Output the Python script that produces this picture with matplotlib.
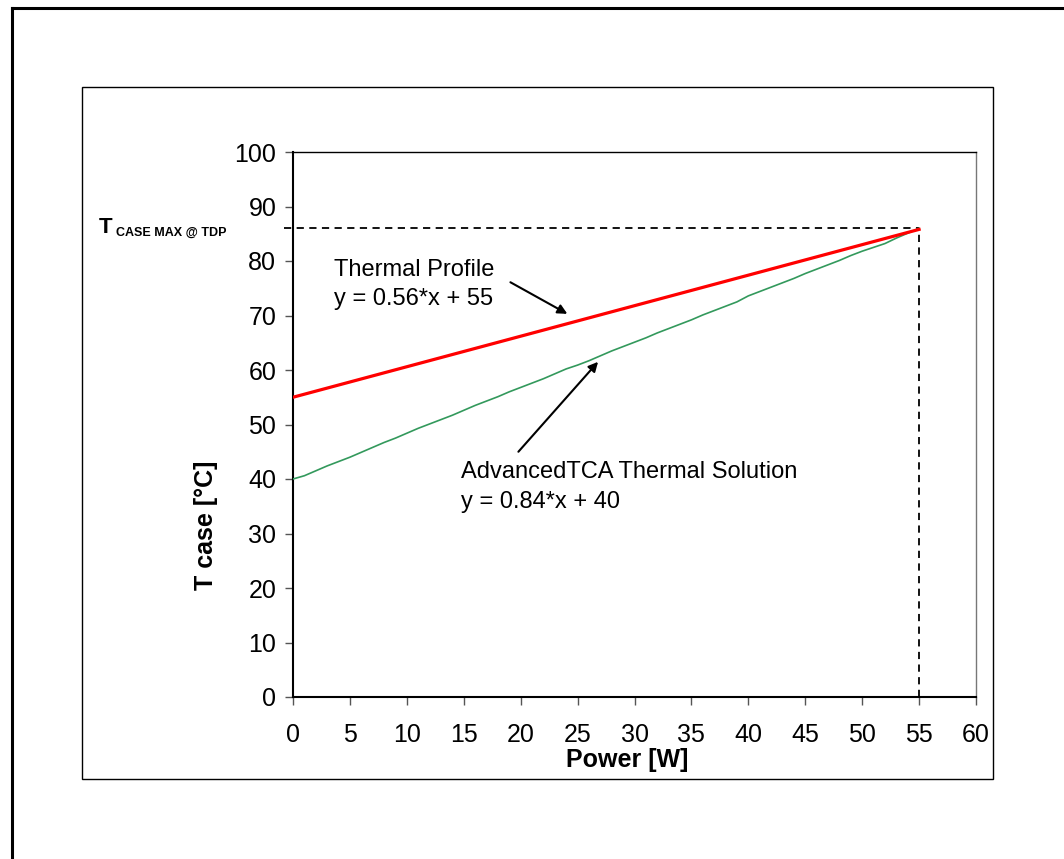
import matplotlib
matplotlib.use("Agg")

import matplotlib.pyplot as plt
from matplotlib.lines import Line2D
from matplotlib.patches import Rectangle

# =========================
# DATA
# =========================
power_fit = [0, 55]
tcase_profile = [55.0, 85.8]

power_sol = list(range(0, 56))
tcase_sol = [
    40.0, 40.6, 41.5, 42.4, 43.2, 44.0, 44.9, 45.8, 46.7, 47.5,
    48.4, 49.3, 50.1, 50.9, 51.7, 52.6, 53.5, 54.3, 55.1, 56.0,
    56.8, 57.6, 58.4, 59.3, 60.2, 60.9, 61.7, 62.6, 63.5, 64.3,
    65.1, 65.9, 66.8, 67.6, 68.4, 69.2, 70.1, 70.9, 71.7, 72.5,
    73.6, 74.4, 75.2, 76.0, 76.8, 77.7, 78.5, 79.3, 80.1, 81.0,
    81.8, 82.5, 83.2, 84.2, 85.1, 86.0,
]

TDP = 55
TCASE_MAX = 86

x_ticks = list(range(0, 61, 5))
y_ticks = list(range(0, 101, 10))

FONT = "Liberation Sans"
W, H = 1064, 859

# =========================
# FIGURE
# =========================
fig = plt.figure(figsize=(W / 100, H / 100), dpi=100)
plt.rcParams["font.family"] = [FONT, "DejaVu Sans"]

# outer frame (left + top edges visible)
fig.add_artist(Line2D([12 / W, 12 / W], [1 - 8 / H, 0], color="black", lw=2.2,
                      transform=fig.transFigure))
fig.add_artist(Line2D([12 / W, 1], [1 - 8 / H, 1 - 8 / H], color="black", lw=2.2,
                      transform=fig.transFigure))
# chart area box
fig.add_artist(Rectangle((82 / W, 1 - 779 / H), (993 - 82) / W, (779 - 87) / H,
                         fill=False, ec="black", lw=1.0, transform=fig.transFigure))

ax = fig.add_axes([293 / W, 1 - 697 / H, (976 - 293) / W, (697 - 152) / H])

ax.plot(power_sol, tcase_sol, color="#33995c", lw=1.2, zorder=3)
ax.plot(power_fit, tcase_profile, color="#ff0000", lw=2.3, zorder=4)

# TDP guide lines
ax.plot([-0.8, TDP], [TCASE_MAX, TCASE_MAX], color="black", lw=1.3,
        dashes=(4, 3), clip_on=False, zorder=2)
ax.plot([TDP, TDP], [0, TCASE_MAX], color="black", lw=1.3,
        dashes=(4, 3), zorder=2)

ax.set_xlim(0, 60)
ax.set_ylim(0, 100)
ax.set_xticks(x_ticks)
ax.set_yticks(y_ticks)
ax.tick_params(axis="both", labelsize=18, direction="out", length=6, width=1,
               color="#555555")
ax.tick_params(axis="y", pad=6)
ax.tick_params(axis="x", pad=13)
for s in ["left", "bottom"]:
    ax.spines[s].set_color("black")
    ax.spines[s].set_linewidth(1.5)
ax.spines["top"].set_color("black")
ax.spines["top"].set_linewidth(1.0)
ax.spines["right"].set_color("#777777")
ax.spines["right"].set_linewidth(1.0)

# annotations
arrow = dict(arrowstyle="-|>", color="black", lw=1.5, mutation_scale=14,
             shrinkA=0, shrinkB=0)
ax.text(3.6, 80.4, "Thermal Profile\ny = 0.56*x + 55", fontsize=17,
        ha="left", va="top", linespacing=1.45)
ax.annotate("", xy=(24.1, 70.3), xytext=(19.1, 76.1), arrowprops=arrow)
ax.text(14.8, 43.3, "AdvancedTCA Thermal Solution\ny = 0.84*x + 40", fontsize=17,
        ha="left", va="top", linespacing=1.45)
ax.annotate("", xy=(26.8, 61.5), xytext=(19.8, 45.0), arrowprops=arrow)

# labels
fig.text(206 / W, 1 - 525 / H, "T case [°C]", rotation=90, fontsize=18,
         fontweight="bold", ha="center", va="center")
fig.text(627 / W, 1 - 760 / H, "Power [W]", fontsize=18,
         fontweight="bold", ha="center", va="center")

fig.text(99 / W, 1 - 233 / H, "T", fontsize=16, fontweight="bold",
         ha="left", va="baseline")
fig.text(116 / W, 1 - 236 / H, "CASE MAX @ TDP", fontsize=9, fontweight="bold",
         ha="left", va="baseline")

fig.savefig("out.png", dpi=100)
